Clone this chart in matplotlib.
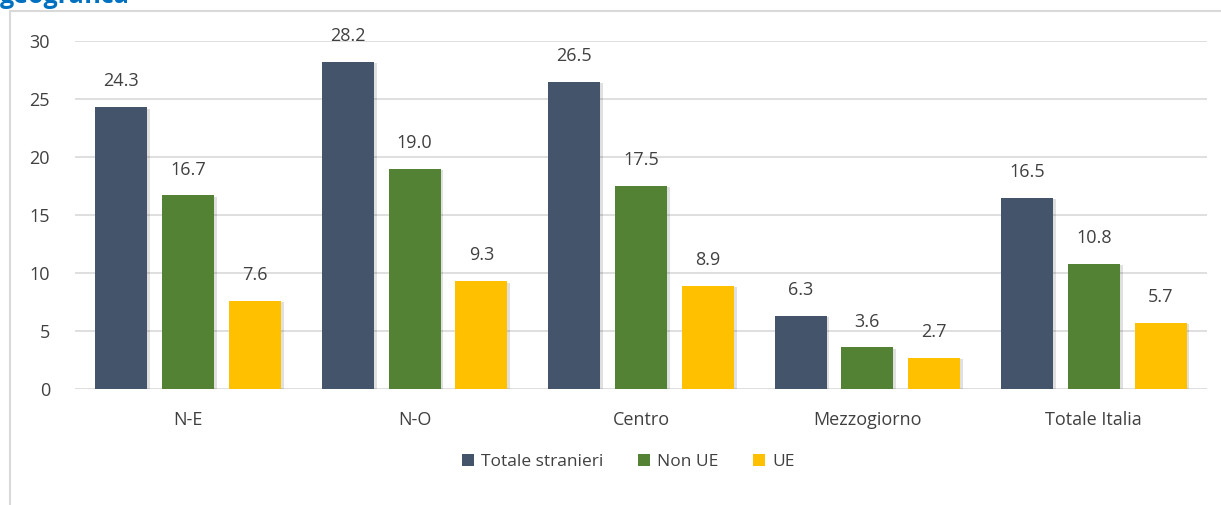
import numpy as np
import matplotlib
matplotlib.use('Agg')
import matplotlib.pyplot as plt
from matplotlib.lines import Line2D

aree = ['N-E', 'N-O', 'Centro', 'Mezzogiorno', 'Totale Italia']
totale_stranieri = [24.3, 28.2, 26.5, 6.3, 16.5]
non_ue = [16.7, 19.0, 17.5, 3.6, 10.8]
ue = [7.6, 9.3, 8.9, 2.7, 5.7]

serie = ['Totale stranieri', 'Non UE', 'UE']
cores = ['#44546A', '#548235', '#FFC000']

plt.rcParams['font.family'] = ['Open Sans', 'DejaVu Sans']

fig = plt.figure(figsize=(12.21, 5.05), dpi=100)
ax = fig.add_axes([75 / 1221, 116 / 505, 1132 / 1221, 348 / 505])

x = np.arange(len(aree))
largura = 0.23
passo = 0.295

for i, (valori, nome, cor) in enumerate(zip([totale_stranieri, non_ue, ue], serie, cores)):
    pos = x + (i - 1) * passo
    # ombra leggera
    ax.bar(pos + 0.012, valori, largura, bottom=-0.12, color='#000000', alpha=0.12, zorder=2)
    ax.bar(pos, valori, largura, color=cor, label=nome, zorder=3)
    for xb, v in zip(pos, valori):
        ax.annotate(f'{v:.1f}', (xb, v), xytext=(0, 12), textcoords='offset points',
                    ha='center', va='bottom', fontsize=13, color='#404040')

ax.set_xlim(-0.5, len(aree) - 0.5)
ax.set_ylim(0, 30)
ax.set_yticks(range(0, 31, 5))
ax.set_xticks(x)
ax.set_xticklabels(aree)
ax.tick_params(axis='both', length=0, labelsize=13, labelcolor='#404040')
ax.tick_params(axis='x', pad=16)
ax.tick_params(axis='y', pad=18)
ax.grid(axis='y', color='#D9D9D9', linewidth=1.2, zorder=0)
ax.set_axisbelow(True)
for s in ax.spines.values():
    s.set_visible(False)

fig.legend(loc='center', bbox_to_anchor=(628 / 1221, 1 - 462 / 505), ncol=3, frameon=False,
           fontsize=12.5, handlelength=0.7, handleheight=0.7, handletextpad=0.4,
           columnspacing=2.0, labelcolor='#404040')

# cornice del grafico
fig.add_artist(Line2D([10 / 1221, 10 / 1221], [0, 1 - 11 / 505], color='#D9D9D9', linewidth=1.5))
fig.add_artist(Line2D([10 / 1221, 1], [1 - 11 / 505, 1 - 11 / 505], color='#D9D9D9', linewidth=1.5))

fig.text(0.0, 1 - 3 / 505, 'geografica', color='#0070C0', fontsize=18, fontweight='bold',
         ha='left', va='baseline')

fig.savefig('out.png', dpi=100, facecolor='white')
